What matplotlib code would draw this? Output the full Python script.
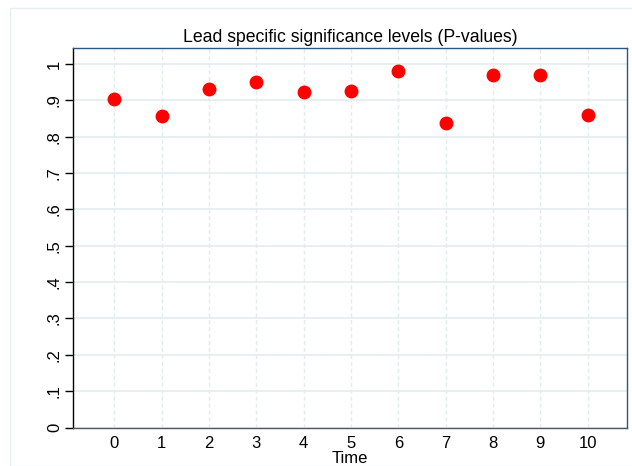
import matplotlib
matplotlib.use("Agg")
import matplotlib.pyplot as plt
from matplotlib.patches import Rectangle

# data
time = [0, 1, 2, 3, 4, 5, 6, 7, 8, 9, 10]
pvalues = [0.905, 0.857, 0.932, 0.951, 0.922, 0.926, 0.981, 0.839, 0.971, 0.969, 0.860]
ytick_vals = [0, 0.1, 0.2, 0.3, 0.4, 0.5, 0.6, 0.7, 0.8, 0.9, 1.0]
ytick_labels = ["0", ".1", ".2", ".3", ".4", ".5", ".6", ".7", ".8", ".9", "1"]

plt.rcParams["font.family"] = ["Liberation Sans", "DejaVu Sans"]

fig = plt.figure(figsize=(6.32, 4.66), dpi=100)
fig.patch.set_facecolor("white")

# faint outer frame like the Stata graph region
fig.patches.append(Rectangle((10 / 632, 0), 1.2, (466 - 8) / 466,
                             transform=fig.transFigure, fill=False,
                             edgecolor="#e6eef0", linewidth=1))

ax = fig.add_axes([73 / 632, (466 - 427.5) / 466, 554 / 632, 379.5 / 466])

ax.plot(time, pvalues, linestyle="none", marker="o", markersize=9,
        color="#ff0000", markeredgecolor="#ff0000", zorder=3)

ax.set_xlim(-0.87, 10.83)
ax.set_ylim(0, 1.044)

ax.set_xticks(time)
ax.set_yticks(ytick_vals)
ax.set_yticklabels(ytick_labels, rotation=90, va="center")

# grid: solid horizontal, dashed vertical
for y in ytick_vals:
    ax.axhline(y, color="#e4ecee", linewidth=1.2, zorder=1)
for x in time:
    ax.axvline(x, color="#e4ecee", linewidth=1, linestyle=(0, (3, 2)), zorder=1)

ax.tick_params(axis="y", length=6, width=1, pad=2, labelsize=12, color="black")
ax.tick_params(axis="x", length=0, pad=6, labelsize=12)

ax.spines["left"].set_color("black")
ax.spines["bottom"].set_color("#505a66")
ax.spines["top"].set_color("#2c5585")
ax.spines["right"].set_color("#2c5585")
for s in ax.spines.values():
    s.set_linewidth(1)

ax.set_xlabel("Time", fontsize=12, labelpad=0)
ax.set_title("Lead specific significance levels (P-values)", fontsize=12.7, pad=4)

fig.savefig("out.png", dpi=100)
